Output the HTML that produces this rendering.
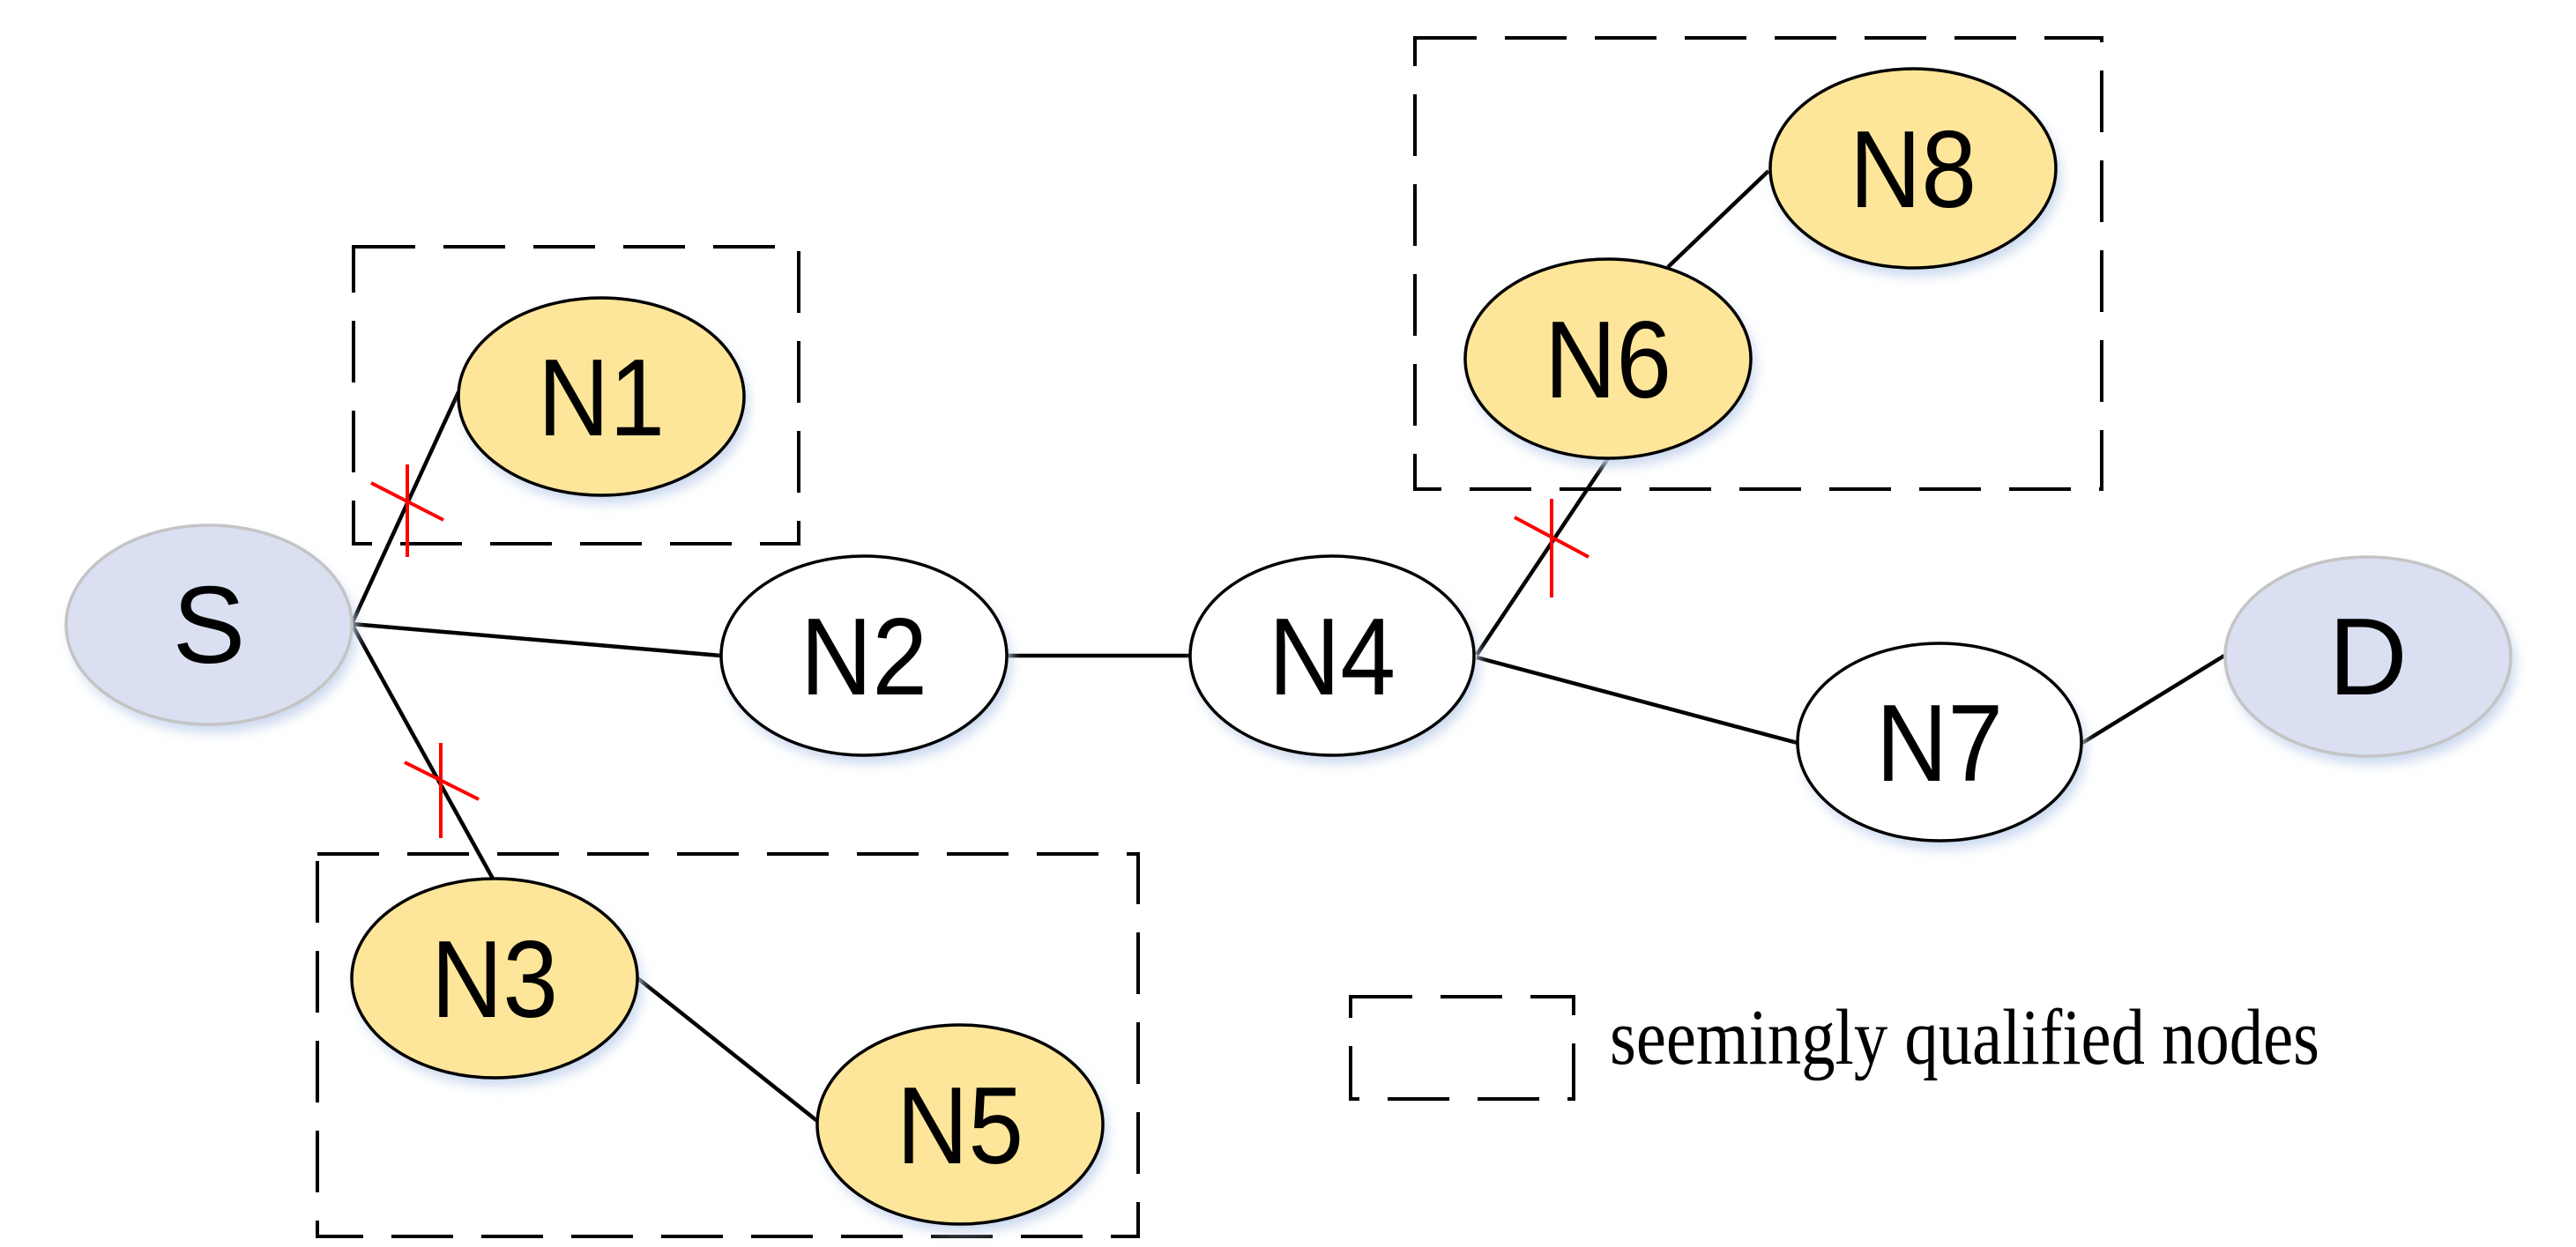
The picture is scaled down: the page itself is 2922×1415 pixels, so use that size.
<!DOCTYPE html>
<html><head><meta charset="utf-8"><style>html,body{margin:0;padding:0;background:#fff}svg{display:block}</style></head>
<body>
<svg width="2922" height="1415" viewBox="0 0 2922 1415" xmlns="http://www.w3.org/2000/svg">
<defs>
<filter id="sh" x="-20%" y="-20%" width="140%" height="150%"><feGaussianBlur stdDeviation="7"/></filter>
</defs>
<g fill="none" stroke="#000" stroke-width="4" stroke-dasharray="70 32">
<rect x="401" y="280" width="505" height="337"/>
<rect x="360" y="969" width="931" height="434"/>
<rect x="1605" y="43" width="779" height="512"/>
<rect x="1532" y="1131" width="253" height="116"/>
</g>
<g stroke="#000" stroke-width="4.5" fill="none">
<line x1="399" y1="708" x2="520" y2="445"/>
<line x1="399" y1="708" x2="818" y2="744"/>
<line x1="399" y1="708" x2="559" y2="997"/>
<line x1="1142" y1="744" x2="1350" y2="744"/>
<line x1="722" y1="1109" x2="927" y2="1272"/>
<line x1="2006" y1="194" x2="1892" y2="303"/>
<line x1="1824" y1="520" x2="1675" y2="743"/>
<line x1="1675" y1="746" x2="2039" y2="843"/>
<line x1="2362" y1="843" x2="2523" y2="744"/>
</g>
<g stroke="#f00" stroke-width="4">
<line x1="462" y1="527" x2="462" y2="632"/><line x1="421" y1="548" x2="503" y2="590"/>
<line x1="500" y1="843" x2="500" y2="951"/><line x1="459" y1="865" x2="543" y2="907"/>
<line x1="1760" y1="566" x2="1760" y2="678"/><line x1="1718" y1="587" x2="1802" y2="632"/>
</g>
<g fill="#c9d8ee" filter="url(#sh)">
<ellipse cx="242" cy="718" rx="162" ry="113"/>
<ellipse cx="687" cy="459" rx="162" ry="112"/>
<ellipse cx="985" cy="753" rx="162" ry="113"/>
<ellipse cx="1516" cy="753" rx="161" ry="113"/>
<ellipse cx="566" cy="1119" rx="162" ry="113"/>
<ellipse cx="1094" cy="1285" rx="162" ry="113"/>
<ellipse cx="2175" cy="200" rx="162" ry="113"/>
<ellipse cx="1829" cy="416" rx="162" ry="113"/>
<ellipse cx="2205" cy="851" rx="161" ry="112"/>
<ellipse cx="2691" cy="754" rx="162" ry="113"/>
</g>
<g stroke-width="3.5">
<ellipse cx="237" cy="709" rx="162" ry="113" fill="#dae0f1" stroke="#c4c4c4"/>
<ellipse cx="2686" cy="745" rx="162" ry="113" fill="#dae0f1" stroke="#c4c4c4"/>
<ellipse cx="682" cy="450" rx="162" ry="112" fill="#fde59a" stroke="#000"/>
<ellipse cx="561" cy="1110" rx="162" ry="113" fill="#fde59a" stroke="#000"/>
<ellipse cx="1089" cy="1276" rx="162" ry="113" fill="#fde59a" stroke="#000"/>
<ellipse cx="2170" cy="191" rx="162" ry="113" fill="#fde59a" stroke="#000"/>
<ellipse cx="1824" cy="407" rx="162" ry="113" fill="#fde59a" stroke="#000"/>
<ellipse cx="980" cy="744" rx="162" ry="113" fill="#fff" stroke="#000"/>
<ellipse cx="1511" cy="744" rx="161" ry="113" fill="#fff" stroke="#000"/>
<ellipse cx="2200" cy="842" rx="161" ry="112" fill="#fff" stroke="#000"/>
</g>
<g font-family="'Liberation Sans', sans-serif" font-size="124" text-anchor="middle" fill="#000">
<text x="237" y="752">S</text>
<text x="2686" y="788">D</text>
<text x="682" y="494" textLength="144" lengthAdjust="spacingAndGlyphs">N1</text>
<text x="980" y="788" textLength="144" lengthAdjust="spacingAndGlyphs">N2</text>
<text x="1511" y="788" textLength="144" lengthAdjust="spacingAndGlyphs">N4</text>
<text x="561" y="1154" textLength="144" lengthAdjust="spacingAndGlyphs">N3</text>
<text x="1089" y="1320" textLength="144" lengthAdjust="spacingAndGlyphs">N5</text>
<text x="2170" y="235" textLength="144" lengthAdjust="spacingAndGlyphs">N8</text>
<text x="1824" y="451" textLength="144" lengthAdjust="spacingAndGlyphs">N6</text>
<text x="2200" y="886" textLength="144" lengthAdjust="spacingAndGlyphs">N7</text>
</g>
<text x="1826" y="1207" font-family="'Liberation Serif', serif" font-size="90" textLength="805" lengthAdjust="spacingAndGlyphs">seemingly qualified nodes</text>
</svg>
</body></html>
